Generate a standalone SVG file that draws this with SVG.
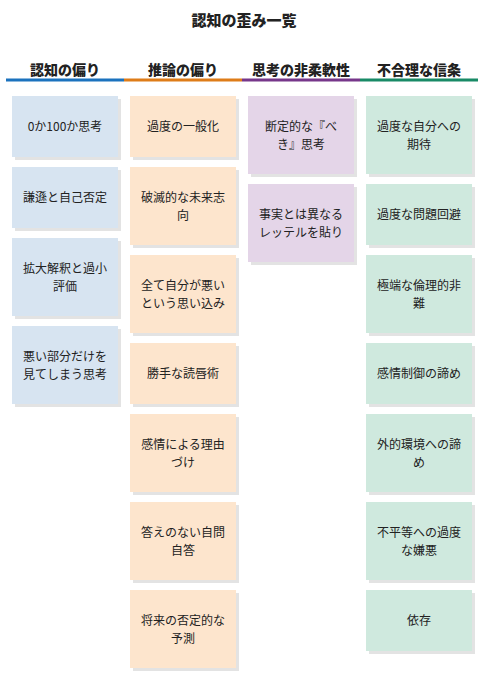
<svg xmlns="http://www.w3.org/2000/svg" width="489" height="679" viewBox="0 0 489 679">
<style>
text{font-family:"Noto Sans CJK JP","Noto Sans CJK SC",sans-serif;fill:#222;text-anchor:middle}
.title{font-size:15px;font-weight:900}
.hd{font-size:14px;font-weight:900}
.t{font-size:12px}
.sh{fill:#000;opacity:.11}
.c1{fill:#d7e4f1}
.c2{fill:#fde5cd}
.c3{fill:#e4d5e8}
.c4{fill:#cfe9de}
</style>
<rect width="489" height="679" fill="#fff"/>
<text class="title" x="244" y="26">認知の歪み一覧</text>
<g id="headers">
<text class="hd" x="65" y="75">認知の偏り</text>
<text class="hd" x="183" y="75">推論の偏り</text>
<text class="hd" x="301" y="75">思考の非柔軟性</text>
<text class="hd" x="419" y="75">不合理な信条</text>
<rect x="6" y="78.5" width="118" height="3" fill="#1b72be"/>
<rect x="124" y="78.5" width="118" height="3" fill="#de7c19"/>
<rect x="242" y="78.5" width="118" height="3" fill="#76378a"/>
<rect x="360" y="78.5" width="118" height="3" fill="#188a66"/>
</g>
<g id="connectors"></g>
<!-- column 1 -->
<g id="n1"><rect class="sh" x="15" y="99" width="106" height="61"/><rect class="c1" x="12" y="96" width="106" height="61"/><text class="t" x="65" y="131">0か100か思考</text></g>
<g id="n2"><rect class="sh" x="15" y="170" width="106" height="61"/><rect class="c1" x="12" y="167" width="106" height="61"/><text class="t" x="65" y="202">謙遜と自己否定</text></g>
<g id="n3"><rect class="sh" x="15" y="241" width="106" height="78"/><rect class="c1" x="12" y="238" width="106" height="78"/><text class="t" x="65" y="273">拡大解釈と過小</text><text class="t" x="65" y="291">評価</text></g>
<g id="n4"><rect class="sh" x="15" y="329" width="106" height="78"/><rect class="c1" x="12" y="326" width="106" height="78"/><text class="t" x="65" y="361">悪い部分だけを</text><text class="t" x="65" y="379">見てしまう思考</text></g>
<!-- column 2 -->
<g id="n5"><rect class="sh" x="133" y="99" width="106" height="61"/><rect class="c2" x="130" y="96" width="106" height="61"/><text class="t" x="183" y="131">過度の一般化</text></g>
<g id="n6"><rect class="sh" x="133" y="170" width="106" height="78"/><rect class="c2" x="130" y="167" width="106" height="78"/><text class="t" x="183" y="202">破滅的な未来志</text><text class="t" x="183" y="220">向</text></g>
<g id="n7"><rect class="sh" x="133" y="258" width="106" height="78"/><rect class="c2" x="130" y="255" width="106" height="78"/><text class="t" x="183" y="290">全て自分が悪い</text><text class="t" x="183" y="308">という思い込み</text></g>
<g id="n8"><rect class="sh" x="133" y="346" width="106" height="61"/><rect class="c2" x="130" y="343" width="106" height="61"/><text class="t" x="183" y="378">勝手な読唇術</text></g>
<g id="n9"><rect class="sh" x="133" y="417" width="106" height="78"/><rect class="c2" x="130" y="414" width="106" height="78"/><text class="t" x="183" y="449">感情による理由</text><text class="t" x="183" y="467">づけ</text></g>
<g id="n10"><rect class="sh" x="133" y="505" width="106" height="78"/><rect class="c2" x="130" y="502" width="106" height="78"/><text class="t" x="183" y="537">答えのない自問</text><text class="t" x="183" y="555">自答</text></g>
<g id="n11"><rect class="sh" x="133" y="593" width="106" height="78"/><rect class="c2" x="130" y="590" width="106" height="78"/><text class="t" x="183" y="625">将来の否定的な</text><text class="t" x="183" y="643">予測</text></g>
<!-- column 3 -->
<g id="n12"><rect class="sh" x="251" y="99" width="106" height="78"/><rect class="c3" x="248" y="96" width="106" height="78"/><text class="t" x="301" y="131">断定的な『べ</text><text class="t" x="301" y="149">き』思考</text></g>
<g id="n13"><rect class="sh" x="251" y="187" width="106" height="78"/><rect class="c3" x="248" y="184" width="106" height="78"/><text class="t" x="301" y="219">事実とは異なる</text><text class="t" x="301" y="237">レッテルを貼り</text></g>
<!-- column 4 -->
<g id="n14"><rect class="sh" x="369" y="99" width="106" height="78"/><rect class="c4" x="366" y="96" width="106" height="78"/><text class="t" x="419" y="131">過度な自分への</text><text class="t" x="419" y="149">期待</text></g>
<g id="n15"><rect class="sh" x="369" y="187" width="106" height="61"/><rect class="c4" x="366" y="184" width="106" height="61"/><text class="t" x="419" y="219">過度な問題回避</text></g>
<g id="n16"><rect class="sh" x="369" y="258" width="106" height="78"/><rect class="c4" x="366" y="255" width="106" height="78"/><text class="t" x="419" y="290">極端な倫理的非</text><text class="t" x="419" y="308">難</text></g>
<g id="n17"><rect class="sh" x="369" y="346" width="106" height="61"/><rect class="c4" x="366" y="343" width="106" height="61"/><text class="t" x="419" y="378">感情制御の諦め</text></g>
<g id="n18"><rect class="sh" x="369" y="417" width="106" height="78"/><rect class="c4" x="366" y="414" width="106" height="78"/><text class="t" x="419" y="449">外的環境への諦</text><text class="t" x="419" y="467">め</text></g>
<g id="n19"><rect class="sh" x="369" y="505" width="106" height="78"/><rect class="c4" x="366" y="502" width="106" height="78"/><text class="t" x="419" y="537">不平等への過度</text><text class="t" x="419" y="555">な嫌悪</text></g>
<g id="n20"><rect class="sh" x="369" y="593" width="106" height="61"/><rect class="c4" x="366" y="590" width="106" height="61"/><text class="t" x="419" y="625">依存</text></g>
</svg>
